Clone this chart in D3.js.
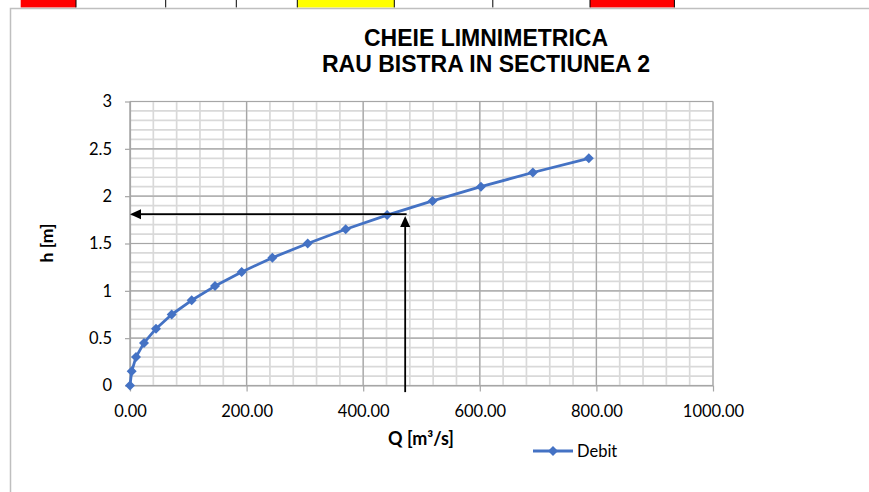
<!DOCTYPE html>
<html><head><meta charset="utf-8">
<script src="https://cdn.jsdelivr.net/npm/d3@7"></script>
<style>body{margin:0;background:#fff;}svg{display:block;}</style>
</head><body>
<svg id="c" width="869" height="492"></svg>
<script>
// Data
const Q = [0, 2.9, 10.3, 24, 44.6, 71.5, 105.8, 145.8, 191.6, 244.2, 304.8, 370, 441, 519, 602, 691, 787];
const H = [0, 0.15, 0.3, 0.45, 0.6, 0.75, 0.9, 1.05, 1.2, 1.35, 1.5, 1.65, 1.8, 1.95, 2.1, 2.25, 2.4];
const xTicks = [0, 200, 400, 600, 800, 1000];
const yTicks = [0, 0.5, 1, 1.5, 2, 2.5, 3];
const xMinor = d3.range(0, 1001, 40);
const yMinor = d3.range(0, 31, 1).map(d => d / 10);
// reading arrows (Q,h) drawn on chart
const arrowH = {from: [474.5, 1.81], to: [0, 1.81]};
const arrowV = {from: [472, -0.07], to: [472, 1.79]};
const title = ["CHEIE LIMNIMETRICA", "RAU BISTRA IN SECTIUNEA 2"];
const seriesName = "Debit";

const svg = d3.select("#c");
const blue = "#4472C4";

// spreadsheet strip on top
const cells = [
  {x0: 20.7, x1: 76, fill: "#ff0000"},
  {x0: 297.3, x1: 394.3, fill: "#ffff00"},
  {x0: 590, x1: 674.4, fill: "#ff0000"}
];
cells.forEach(c => svg.append("rect").attr("x", c.x0).attr("y", 0).attr("width", c.x1 - c.x0).attr("height", 7.5).attr("fill", c.fill));
[76, 165.7, 236.3, 297.3, 394.3, 492.8, 590, 674.4].forEach(x =>
  svg.append("line").attr("x1", x).attr("x2", x).attr("y1", 0).attr("y2", 7.5).attr("stroke", "#000").attr("stroke-width", 1));

// chart frame
svg.append("rect").attr("x", 10.5).attr("y", 8.5).attr("width", 900).attr("height", 500)
  .attr("fill", "#fff").attr("stroke", "#bfbfbf").attr("stroke-width", 1.5);

const x = d3.scaleLinear().domain([0, 1000]).range([130, 713]);
const y = d3.scaleLinear().domain([0, 3]).range([385.5, 101.5]);

// minor gridlines
const g = svg.append("g");
g.selectAll(".vmin").data(xMinor).join("line")
  .attr("x1", d => x(d)).attr("x2", d => x(d)).attr("y1", y(0)).attr("y2", y(3))
  .attr("stroke", "#d9d9d9").attr("stroke-width", 1.7);
g.selectAll(".hmin").data(yMinor).join("line")
  .attr("x1", x(0)).attr("x2", x(1000)).attr("y1", d => y(d)).attr("y2", d => y(d))
  .attr("stroke", "#d9d9d9").attr("stroke-width", 1.7);
// major gridlines
g.selectAll(".vmaj").data(xTicks).join("line")
  .attr("x1", d => x(d)).attr("x2", d => x(d)).attr("y1", y(0)).attr("y2", y(3))
  .attr("stroke", "#a6a6a6").attr("stroke-width", 1.2);
g.selectAll(".hmaj").data(yTicks).join("line")
  .attr("x1", x(0)).attr("x2", x(1000)).attr("y1", d => y(d)).attr("y2", d => y(d))
  .attr("stroke", "#a6a6a6").attr("stroke-width", 1.2);

// axes
const font = "Lato, 'Open Sans', sans-serif";
const xAxis = svg.append("g").attr("transform", `translate(0,${y(0)})`)
  .call(d3.axisBottom(x).tickValues(xTicks).tickFormat(d3.format(".2f")).tickSize(6).tickSizeOuter(0).tickPadding(14));
const yAxis = svg.append("g").attr("transform", `translate(${x(0)},0)`)
  .call(d3.axisLeft(y).tickValues(yTicks).tickFormat(d => d3.format("")(d)).tickSize(5).tickSizeOuter(0).tickPadding(13));
[xAxis, yAxis].forEach(a => {
  a.select(".domain").attr("stroke", "#a6a6a6").attr("stroke-width", 1.2);
  a.selectAll(".tick line").attr("stroke", "#a6a6a6").attr("stroke-width", 1.2);
  a.selectAll("text").attr("fill", "#000").style("font-family", font).style("font-size", "16.5px");
});

// series
const pts = Q.map((q, i) => [q, H[i]]);
svg.append("path").datum(pts)
  .attr("d", d3.line().x(d => x(d[0])).y(d => y(d[1])))
  .attr("fill", "none").attr("stroke", blue).attr("stroke-width", 2.8).attr("stroke-linejoin", "round");
const r = 5;
const diamond = `M0,${-r}L${r},0L0,${r}L${-r},0Z`;
svg.selectAll(".pt").data(pts).join("path")
  .attr("transform", d => `translate(${x(d[0])},${y(d[1])})`)
  .attr("d", diamond).attr("fill", blue);

// arrows
function arrow(a) {
  const x1 = x(a.from[0]), y1 = y(a.from[1]), x2 = x(a.to[0]), y2 = y(a.to[1]);
  const ang = Math.atan2(y2 - y1, x2 - x1), L = 11, W = 5;
  const bx = x2 - L * Math.cos(ang), by = y2 - L * Math.sin(ang);
  svg.append("line").attr("x1", x1).attr("y1", y1).attr("x2", bx).attr("y2", by)
    .attr("stroke", "#000").attr("stroke-width", 1.8);
  const px = -Math.sin(ang) * W, py = Math.cos(ang) * W;
  svg.append("path").attr("d", `M${x2},${y2}L${bx + px},${by + py}L${bx - px},${by - py}Z`).attr("fill", "#000");
}
arrow(arrowH);
arrow(arrowV);

// title
svg.append("text").attr("x", 486).attr("text-anchor", "middle")
  .style("font-family", "'Liberation Sans', Arial, sans-serif").style("font-weight", "bold").style("font-size", "23px")
  .selectAll("tspan").data(title).join("tspan")
  .attr("x", 486).attr("y", (d, i) => 46 + i * 26).text(d => d);

// axis titles
svg.append("text").attr("x", 421).attr("y", 445).attr("text-anchor", "middle")
  .style("font-family", font).style("font-weight", "bold").style("font-size", "18px").text("Q [m³/s]");
svg.append("text").attr("transform", "translate(53,243) rotate(-90)").attr("text-anchor", "middle")
  .style("font-family", font).style("font-weight", "bold").style("font-size", "17.5px").text("h [m]");

// legend
svg.append("line").attr("x1", 533).attr("x2", 573).attr("y1", 451).attr("y2", 451).attr("stroke", blue).attr("stroke-width", 2.8);
svg.append("path").attr("transform", "translate(553,451)").attr("d", diamond).attr("fill", blue);
svg.append("text").attr("x", 577).attr("y", 457).style("font-family", font).style("font-size", "16.5px").text(seriesName);
</script>
</body></html>
